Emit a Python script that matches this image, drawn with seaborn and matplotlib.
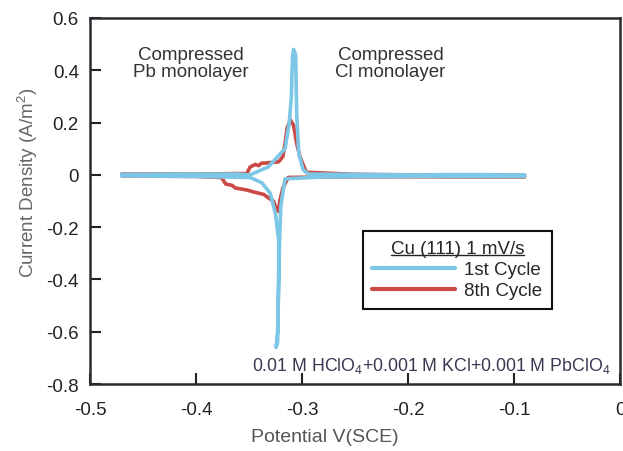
import numpy as np
import pandas as pd
import matplotlib
matplotlib.use("Agg")
import matplotlib.pyplot as plt
import seaborn as sns
from matplotlib.lines import Line2D

# ---- data ----
# 1st cycle: forward sweep (negative -> positive), then reverse sweep
c1_fwd_x = [-0.470, -0.400, -0.360, -0.349, -0.332, -0.316, -0.312, -0.310, -0.309, -0.308, -0.306, -0.305, -0.303, -0.299, -0.294, -0.250, -0.200, -0.150, -0.090]
c1_fwd_y = [0.002, 0.003, 0.003, 0.000, 0.030, 0.100, 0.200, 0.300, 0.450, 0.480, 0.460, 0.230, 0.080, 0.020, 0.003, 0.002, 0.000, 0.001, 0.000]
c1_rev_x = [-0.090, -0.150, -0.200, -0.280, -0.316, -0.320, -0.321, -0.322, -0.323, -0.3245, -0.323, -0.322, -0.322, -0.325, -0.330, -0.338, -0.349, -0.400, -0.470]
c1_rev_y = [-0.006, -0.006, -0.006, -0.008, -0.015, -0.120, -0.230, -0.400, -0.600, -0.660, -0.640, -0.400, -0.250, -0.150, -0.070, -0.030, -0.010, -0.006, -0.004]

# 8th cycle
c8_fwd_x = [-0.470, -0.400, -0.360, -0.352, -0.349, -0.344, -0.341, -0.338, -0.335, -0.322, -0.318, -0.316, -0.314, -0.311, -0.308, -0.305, -0.302, -0.299, -0.296, -0.250, -0.200, -0.150, -0.090]
c8_fwd_y = [0.003, 0.003, 0.005, 0.005, 0.030, 0.040, 0.035, 0.045, 0.045, 0.050, 0.070, 0.120, 0.180, 0.210, 0.190, 0.120, 0.070, 0.040, 0.010, 0.002, 0.000, -0.001, -0.002]
c8_rev_x = [-0.090, -0.150, -0.200, -0.280, -0.313, -0.318, -0.321, -0.322, -0.324, -0.327, -0.331, -0.336, -0.346, -0.352, -0.363, -0.366, -0.372, -0.376, -0.400, -0.470]
c8_rev_y = [-0.008, -0.008, -0.007, -0.008, -0.010, -0.050, -0.100, -0.140, -0.130, -0.100, -0.090, -0.075, -0.065, -0.058, -0.050, -0.040, -0.035, -0.010, -0.006, -0.004]

cycles = ["8th Cycle", "1st Cycle"]
x_ticks = [-0.5, -0.4, -0.3, -0.2, -0.1, 0.0]
y_ticks = [-0.8, -0.6, -0.4, -0.2, 0.0, 0.2, 0.4, 0.6]

frames = []
for name, xs, ys in [("8th Cycle", c8_fwd_x + c8_rev_x, c8_fwd_y + c8_rev_y),
                     ("1st Cycle", c1_fwd_x + c1_rev_x, c1_fwd_y + c1_rev_y)]:
    frames.append(pd.DataFrame({"Potential": xs, "Current": ys, "Cycle": name,
                                "order": np.arange(len(xs))}))
df = pd.concat(frames, ignore_index=True)

# ---- style ----
sns.set_style("ticks")
plt.rcParams["font.family"] = ["Liberation Sans", "DejaVu Sans"]
plt.rcParams["mathtext.fontset"] = "custom"
plt.rcParams["mathtext.rm"] = "Liberation Sans"
plt.rcParams["mathtext.it"] = "Liberation Sans"
plt.rcParams["axes.unicode_minus"] = False

fig = plt.figure(figsize=(6.23, 4.52), dpi=100)
ax = fig.add_axes([90 / 623, 1 - 385 / 452, 530 / 623, 366 / 452])

palette = {"1st Cycle": "#7cc6e6", "8th Cycle": "#cc4a45"}
sns.lineplot(data=df, x="Potential", y="Current", hue="Cycle", units="Cycle",
             estimator=None, sort=False, palette=palette, hue_order=cycles,
             linewidth=2.6, ax=ax, legend=False)

ax.set_xlim(-0.5, 0.0)
ax.set_ylim(-0.8, 0.6)
ax.set_xticks(x_ticks)
ax.set_yticks(y_ticks)
ax.set_xticklabels(["%g" % v for v in x_ticks])
ax.set_yticklabels(["%g" % (0 if abs(v) < 1e-9 else v) for v in y_ticks])
ax.tick_params(axis="both", direction="in", length=8, width=1.5, labelsize=13.5,
               colors="#222222")
ax.tick_params(axis="x", pad=12)
ax.tick_params(axis="y", pad=8)
for s in ax.spines.values():
    s.set_linewidth(1.8)
    s.set_color("#2a2a30")
    s.set_visible(True)

ax.set_xlabel("Potential V(SCE)", fontsize=14, color="#555555")
ax.xaxis.set_label_coords((325 - 90) / 530, -(437 - 385) / 366, transform=ax.transAxes)
ax.xaxis.label.set_va("center")
ax.set_ylabel("Current Density (A/m$^2$)", fontsize=13.5, color="#666666")
ax.yaxis.set_label_coords(-(90 - 28) / 530, (385 - 183) / 366, transform=ax.transAxes)
ax.yaxis.label.set_va("center")

ax.text(-0.4045, 0.427, "Compressed\nPb monolayer", ha="center", va="center",
        fontsize=13.5, color="#333333", linespacing=1.0)
ax.text(-0.2165, 0.427, "Compressed\nCl monolayer", ha="center", va="center",
        fontsize=13.5, color="#333333", linespacing=1.0)
ax.text(-0.347, -0.728,
        "0.01 M HClO$_4$+0.001 M KCl+0.001 M PbClO$_4$",
        ha="left", va="center", fontsize=12.8, color="#3c3650")

handles = [Line2D([], [], color=palette["1st Cycle"], lw=3),
           Line2D([], [], color=palette["8th Cycle"], lw=3)]
leg = ax.legend(handles, ["1st Cycle", "8th Cycle"],
                title="Cu (111) 1 mV/s",
                loc="upper left", bbox_to_anchor=(363 / 623, 1 - 232 / 452),
                bbox_transform=fig.transFigure, fontsize=13.5, title_fontsize=13.5,
                frameon=True, fancybox=False, framealpha=1, edgecolor="#111111",
                handlelength=4.4, handletextpad=0.5, labelspacing=0.2,
                borderpad=0.5, borderaxespad=0)
leg.get_frame().set_linewidth(1.5)

# underline the legend title
fig.canvas.draw()
bb = leg.get_title().get_window_extent(fig.canvas.get_renderer())
inv = fig.transFigure.inverted()
(x0, y0), (x1, _) = inv.transform([(bb.x0, bb.y0), (bb.x1, bb.y0)])
fig.add_artist(Line2D([x0, x1], [y0 + 0.006, y0 + 0.006], transform=fig.transFigure,
                      color="#222222", lw=1.0))

fig.savefig("out.png", dpi=100)
